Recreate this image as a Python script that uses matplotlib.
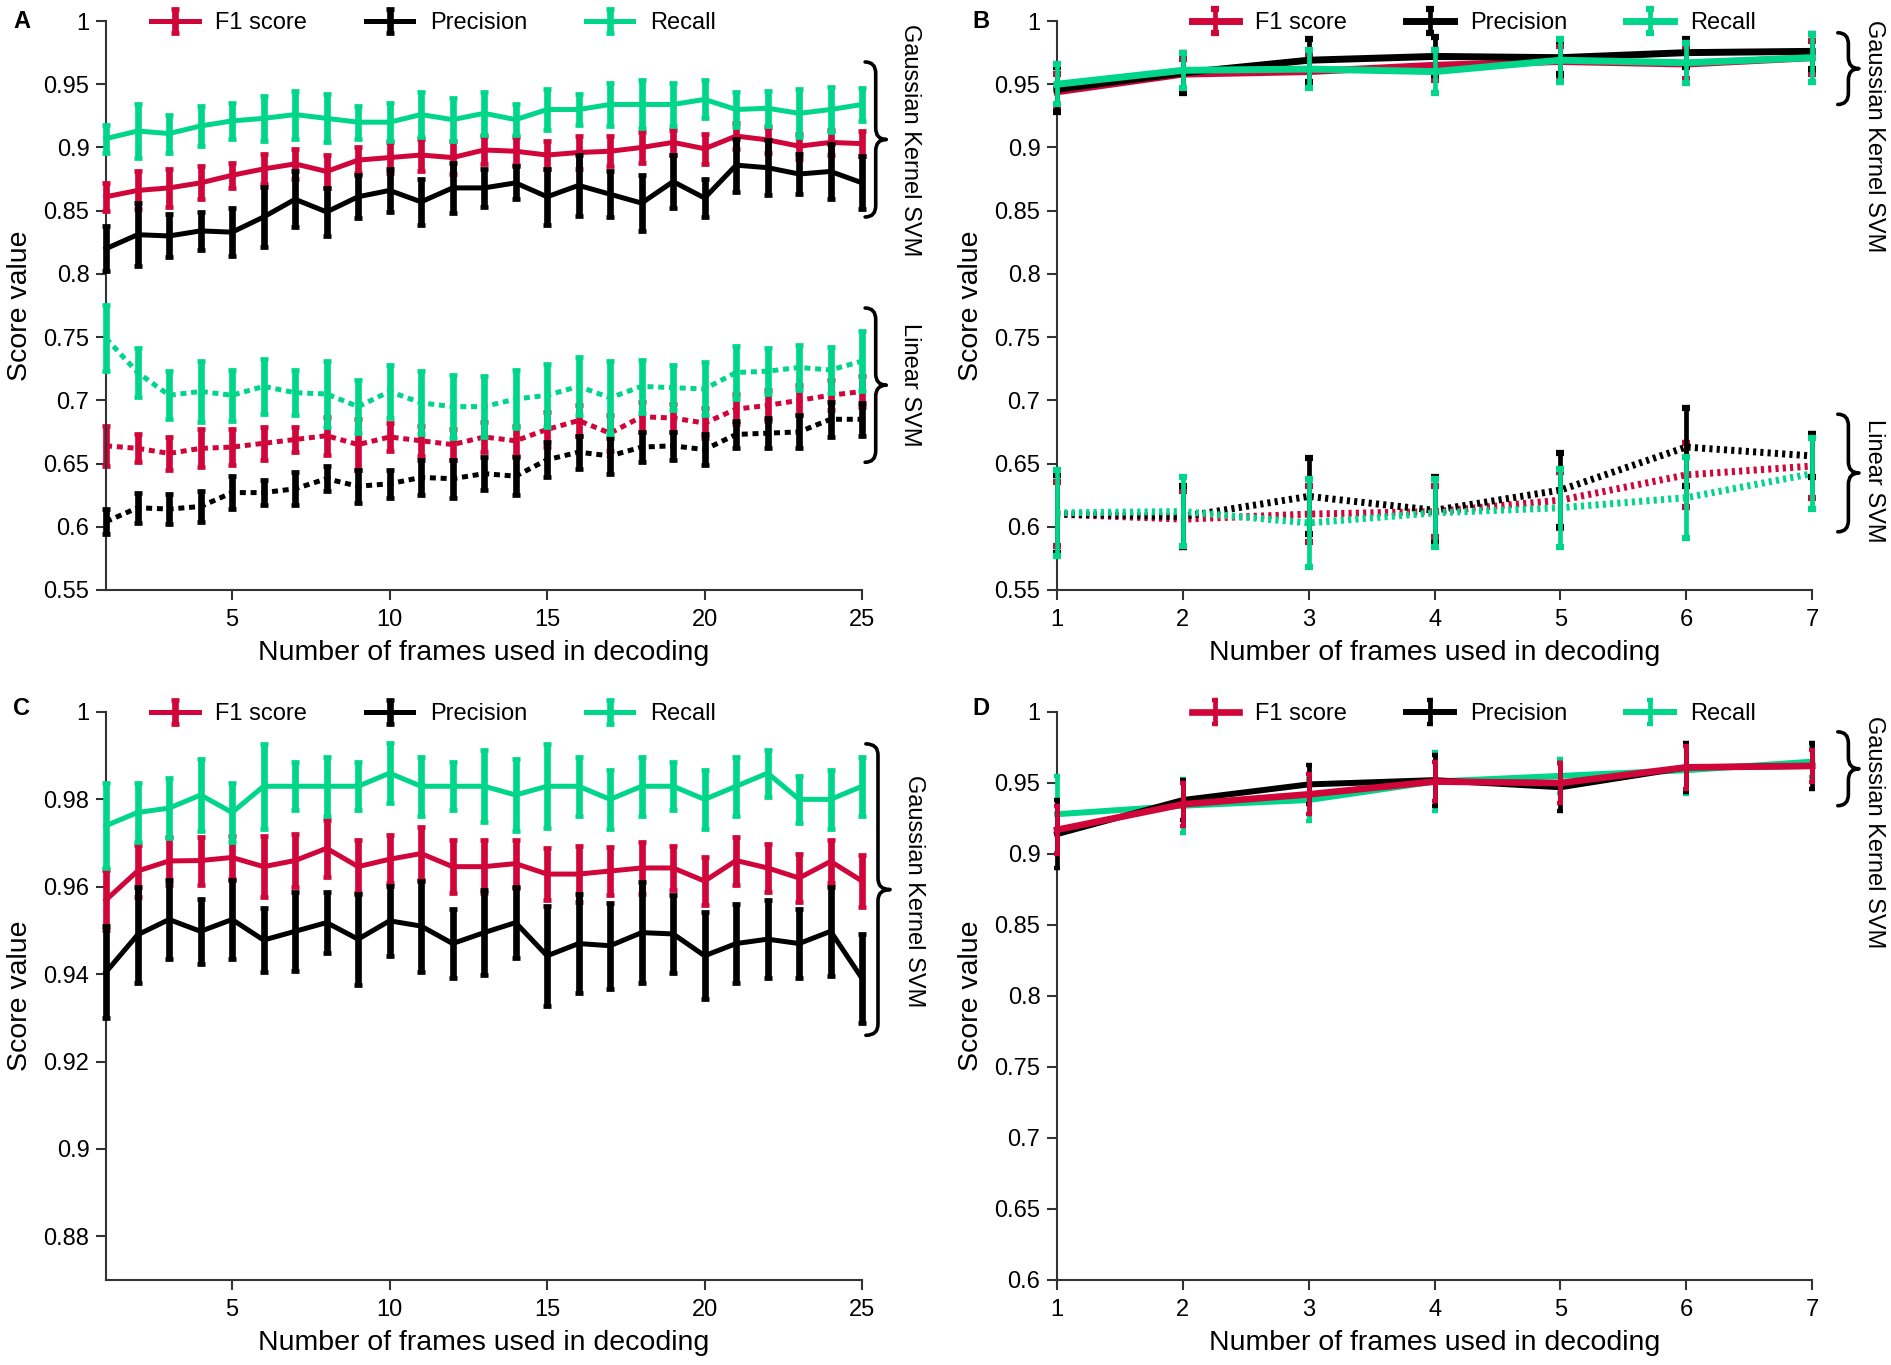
import numpy as np
import matplotlib
matplotlib.use('Agg')
import matplotlib.pyplot as plt
from matplotlib.path import Path
from matplotlib.patches import PathPatch
import matplotlib.transforms as mtransforms
from matplotlib.ticker import FuncFormatter, FixedLocator

plt.rcParams['font.family'] = ['Liberation Sans', 'DejaVu Sans']

RED = '#d0063a'
BLACK = '#000000'
GREEN = '#00d68a'

series_labels = ['F1 score', 'Precision', 'Recall']
frames_25 = list(range(1, 26))
frames_7 = list(range(1, 8))

# ---------------- Panel A ----------------
A_gauss_f1 = [0.861, 0.866, 0.868, 0.872, 0.878, 0.883, 0.887, 0.881, 0.890, 0.892,
              0.894, 0.892, 0.898, 0.897, 0.894, 0.896, 0.897, 0.900, 0.904, 0.899,
              0.909, 0.906, 0.901, 0.904, 0.903]
A_gauss_f1_err = [0.011, 0.015, 0.015, 0.013, 0.010, 0.012, 0.012, 0.013, 0.010, 0.012,
                  0.013, 0.013, 0.011, 0.011, 0.011, 0.013, 0.012, 0.012, 0.010, 0.012,
                  0.010, 0.010, 0.010, 0.010, 0.010]
A_gauss_prec = [0.820, 0.831, 0.830, 0.834, 0.833, 0.845, 0.859, 0.849, 0.861, 0.866,
                0.857, 0.868, 0.868, 0.872, 0.861, 0.870, 0.863, 0.856, 0.873, 0.860,
                0.886, 0.884, 0.879, 0.881, 0.872]
A_gauss_prec_err = [0.018, 0.025, 0.017, 0.015, 0.019, 0.024, 0.022, 0.019, 0.017, 0.017,
                    0.018, 0.020, 0.015, 0.013, 0.022, 0.024, 0.018, 0.022, 0.021, 0.015,
                    0.021, 0.022, 0.016, 0.022, 0.021]
A_gauss_rec = [0.907, 0.913, 0.911, 0.917, 0.921, 0.923, 0.926, 0.923, 0.920, 0.920,
               0.926, 0.922, 0.927, 0.922, 0.930, 0.930, 0.934, 0.934, 0.934, 0.938,
               0.930, 0.931, 0.927, 0.930, 0.934]
A_gauss_rec_err = [0.011, 0.021, 0.015, 0.016, 0.014, 0.018, 0.019, 0.019, 0.013, 0.015,
                   0.018, 0.017, 0.017, 0.012, 0.016, 0.012, 0.017, 0.019, 0.017, 0.015,
                   0.014, 0.014, 0.019, 0.018, 0.013]

A_lin_f1 = [0.664, 0.662, 0.658, 0.662, 0.663, 0.666, 0.669, 0.672, 0.665, 0.671,
            0.668, 0.665, 0.671, 0.668, 0.677, 0.684, 0.674, 0.687, 0.686, 0.682,
            0.693, 0.696, 0.700, 0.704, 0.707]
A_lin_f1_err = [0.016, 0.011, 0.013, 0.015, 0.014, 0.013, 0.010, 0.015, 0.020, 0.011,
                0.012, 0.012, 0.012, 0.012, 0.014, 0.012, 0.014, 0.012, 0.011, 0.012,
                0.012, 0.012, 0.012, 0.012, 0.012]
A_lin_prec = [0.604, 0.615, 0.614, 0.616, 0.627, 0.627, 0.630, 0.638, 0.632, 0.634,
              0.639, 0.638, 0.642, 0.640, 0.653, 0.659, 0.656, 0.663, 0.664, 0.661,
              0.673, 0.674, 0.675, 0.685, 0.685]
A_lin_prec_err = [0.010, 0.012, 0.012, 0.012, 0.013, 0.010, 0.013, 0.010, 0.013, 0.011,
                  0.014, 0.015, 0.013, 0.015, 0.014, 0.013, 0.014, 0.012, 0.011, 0.012,
                  0.011, 0.012, 0.013, 0.014, 0.013]
A_lin_rec = [0.749, 0.722, 0.704, 0.707, 0.704, 0.711, 0.706, 0.705, 0.695, 0.707,
             0.698, 0.695, 0.695, 0.701, 0.704, 0.711, 0.702, 0.711, 0.710, 0.709,
             0.722, 0.723, 0.726, 0.724, 0.731]
A_lin_rec_err = [0.026, 0.019, 0.019, 0.024, 0.020, 0.022, 0.018, 0.026, 0.021, 0.021,
                 0.025, 0.025, 0.024, 0.023, 0.025, 0.023, 0.029, 0.021, 0.018, 0.021,
                 0.021, 0.018, 0.018, 0.018, 0.024]

# ---------------- Panel B ----------------
B_gauss_f1 = [0.944, 0.958, 0.960, 0.965, 0.968, 0.966, 0.971]
B_gauss_f1_err = [0.014, 0.012, 0.012, 0.012, 0.012, 0.012, 0.013]
B_gauss_prec = [0.946, 0.959, 0.969, 0.972, 0.971, 0.975, 0.976]
B_gauss_prec_err = [0.018, 0.016, 0.017, 0.015, 0.013, 0.011, 0.014]
B_gauss_rec = [0.950, 0.961, 0.962, 0.960, 0.969, 0.967, 0.971]
B_gauss_rec_err = [0.016, 0.014, 0.015, 0.017, 0.017, 0.016, 0.019]

B_lin_f1 = [0.610, 0.606, 0.610, 0.612, 0.621, 0.641, 0.648]
B_lin_f1_err = [0.025, 0.022, 0.022, 0.020, 0.022, 0.025, 0.025]
B_lin_prec = [0.610, 0.608, 0.624, 0.613, 0.629, 0.663, 0.656]
B_lin_prec_err = [0.031, 0.024, 0.030, 0.026, 0.029, 0.031, 0.017]
B_lin_rec = [0.611, 0.612, 0.603, 0.611, 0.615, 0.623, 0.642]
B_lin_rec_err = [0.034, 0.027, 0.035, 0.027, 0.031, 0.032, 0.028]

# ---------------- Panel C ----------------
C_gauss_f1 = [0.9570, 0.9636, 0.9659, 0.9660, 0.9667, 0.9646, 0.9660, 0.9688, 0.9646, 0.9663,
              0.9676, 0.9646, 0.9646, 0.9653, 0.9629, 0.9629, 0.9636, 0.9643, 0.9643, 0.9613,
              0.9660, 0.9643, 0.9620, 0.9658, 0.9613]
C_gauss_f1_err = [0.0068, 0.0060, 0.0055, 0.0055, 0.0050, 0.0070, 0.0060, 0.0065, 0.0060, 0.0055,
                  0.0060, 0.0060, 0.0060, 0.0055, 0.0060, 0.0065, 0.0055, 0.0060, 0.0050, 0.0055,
                  0.0055, 0.0055, 0.0055, 0.0050, 0.0060]
C_gauss_prec = [0.9405, 0.9490, 0.9525, 0.9498, 0.9525, 0.9478, 0.9498, 0.9518, 0.9480, 0.9522,
                0.9510, 0.9470, 0.9495, 0.9518, 0.9442, 0.9470, 0.9465, 0.9495, 0.9492, 0.9442,
                0.9470, 0.9480, 0.9470, 0.9498, 0.9390]
C_gauss_prec_err = [0.0105, 0.0110, 0.0090, 0.0075, 0.0090, 0.0073, 0.0090, 0.0069, 0.0104, 0.0080,
                    0.0104, 0.0080, 0.0098, 0.0082, 0.0115, 0.0113, 0.0098, 0.0115, 0.0090, 0.0100,
                    0.0090, 0.0090, 0.0080, 0.0102, 0.0102]
C_gauss_rec = [0.974, 0.977, 0.978, 0.981, 0.977, 0.983, 0.983, 0.983, 0.983, 0.986,
               0.983, 0.983, 0.983, 0.981, 0.983, 0.983, 0.980, 0.983, 0.983, 0.980,
               0.983, 0.986, 0.980, 0.980, 0.983]
C_gauss_rec_err = [0.0097, 0.0068, 0.0068, 0.0082, 0.0068, 0.0097, 0.0055, 0.0068, 0.0055, 0.0068,
                   0.0068, 0.0055, 0.0082, 0.0082, 0.0096, 0.0068, 0.0068, 0.0068, 0.0055, 0.0068,
                   0.0068, 0.0054, 0.0054, 0.0068, 0.0068]

# ---------------- Panel D ----------------
D_gauss_f1 = [0.917, 0.935, 0.942, 0.951, 0.950, 0.961, 0.962]
D_gauss_f1_err = [0.017, 0.015, 0.014, 0.014, 0.014, 0.015, 0.011]
D_gauss_prec = [0.914, 0.938, 0.949, 0.952, 0.947, 0.961, 0.962]
D_gauss_prec_err = [0.024, 0.014, 0.014, 0.018, 0.017, 0.017, 0.016]
D_gauss_rec = [0.928, 0.934, 0.938, 0.951, 0.955, 0.959, 0.965]
D_gauss_rec_err = [0.027, 0.019, 0.015, 0.021, 0.012, 0.017, 0.011]

fig = plt.figure(figsize=(18.91, 13.65), dpi=100)

axA = fig.add_axes([0.0561, 0.5678, 0.3998, 0.4168])
axB = fig.add_axes([0.5590, 0.5678, 0.3993, 0.4168])
axC = fig.add_axes([0.0561, 0.0623, 0.3998, 0.4161])
axD = fig.add_axes([0.5590, 0.0623, 0.3993, 0.4161])

fmt = FuncFormatter(lambda v, p: '%g' % round(v, 4))


def style_axes(ax, xlim, xticks, ylim, yticks):
    ax.set_xlim(*xlim)
    ax.set_ylim(*ylim)
    ax.xaxis.set_major_locator(FixedLocator(xticks))
    ax.yaxis.set_major_locator(FixedLocator(yticks))
    ax.yaxis.set_major_formatter(fmt)
    for s in ['top', 'right']:
        ax.spines[s].set_visible(False)
    for s in ['left', 'bottom']:
        ax.spines[s].set_linewidth(1.5)
        ax.spines[s].set_color('#333333')
    ax.tick_params(direction='out', length=7, width=1.5, color='#333333',
                   labelsize=17, pad=5)
    ax.tick_params(axis='x', pad=7)
    ax.set_xlabel('Number of frames used in decoding', fontsize=20.5)
    ax.set_ylabel('Score value', fontsize=20.5)
    ax.yaxis.set_label_coords(-0.097, 0.5)
    ax.xaxis.set_label_coords(0.5, -0.088)


def eb(ax, x, y, err, color, ls, lw, elw, capsize, capthick, z):
    c = ax.errorbar(x, y, yerr=err, color=color, ls=ls, lw=lw, elinewidth=elw,
                    capsize=capsize, capthick=capthick, zorder=z)
    c.lines[0].set_dash_capstyle('butt')
    c.lines[0].set_clip_on(False)
    for cl in c.lines[1]:
        cl.set_clip_on(False)
    for bl in c.lines[2]:
        bl.set_clip_on(False)
    return c


def brace(ax, x0, w, y0, y1, lw=2.6):
    trans = mtransforms.blended_transform_factory(ax.transAxes, ax.transData)
    ylo, yhi = ax.get_ylim()
    h = 0.02 * (yhi - ylo)
    xm = x0 + w * 0.5
    xt = x0 + w
    mid = 0.5 * (y0 + y1)
    verts = [(x0, y1), (xm, y1), (xm, y1 - h),
             (xm, mid + h),
             (xm, mid), (xt, mid),
             (xm, mid), (xm, mid - h),
             (xm, y0 + h),
             (xm, y0), (x0, y0)]
    codes = [Path.MOVETO, Path.CURVE3, Path.CURVE3,
             Path.LINETO,
             Path.CURVE3, Path.CURVE3,
             Path.CURVE3, Path.CURVE3,
             Path.LINETO,
             Path.CURVE3, Path.CURVE3]
    p = PathPatch(Path(verts, codes), transform=trans, fill=False, lw=lw,
                  edgecolor='black', clip_on=False, capstyle='round', joinstyle='round')
    ax.add_patch(p)


def side_text(ax, x, y, s, va='center'):
    trans = mtransforms.blended_transform_factory(ax.transAxes, ax.transData)
    ax.text(x, y, s, transform=trans, rotation=-90, fontsize=17, ha='center', va=va,
            clip_on=False)


def legend(ax, handles, xc):
    ax.legend(handles, series_labels, loc='center', bbox_to_anchor=(xc, 0.996),
              ncol=3, frameon=False, fontsize=17, handlelength=2.0,
              handletextpad=0.7, columnspacing=2.5, borderaxespad=0, borderpad=0)


DOT_A = (0, (1.2, 0.95))
DOT_B = (0, (0.45, 0.6))

# styles: (line width, error-bar width, cap size, cap thickness)
STY_A = (3.6, 4.8, 2.8, 3.4)
STY_B = (5.0, 3.4, 3.0, 4.5)
STY_D = (4.3, 3.4, 2.0, 3.2)

# ---- A ----
style_axes(axA, (1, 25), [5, 10, 15, 20, 25], (0.55, 1.0), np.arange(0.55, 1.001, 0.05))
lw, elw, cs, ct = STY_A
eb(axA, frames_25, A_lin_f1, A_lin_f1_err, RED, DOT_A, 3.6, elw, cs, ct, 2)
eb(axA, frames_25, A_lin_prec, A_lin_prec_err, BLACK, DOT_A, 3.6, elw, cs, ct, 3)
eb(axA, frames_25, A_lin_rec, A_lin_rec_err, GREEN, DOT_A, 3.6, elw, cs, ct, 4)
hA1 = eb(axA, frames_25, A_gauss_f1, A_gauss_f1_err, RED, '-', lw, elw, cs, ct, 5)
hA2 = eb(axA, frames_25, A_gauss_prec, A_gauss_prec_err, BLACK, '-', lw, elw, cs, ct, 6)
hA3 = eb(axA, frames_25, A_gauss_rec, A_gauss_rec_err, GREEN, '-', lw, elw, cs, ct, 7)
legend(axA, [hA1, hA2, hA3], 0.433)
brace(axA, 1.004, 0.028, 0.845, 0.9676)
brace(axA, 1.004, 0.028, 0.651, 0.773)
side_text(axA, 1.063, 0.906, 'Gaussian Kernel SVM')
side_text(axA, 1.063, 0.712, 'Linear SVM')

# ---- B ----
style_axes(axB, (1, 7), frames_7, (0.55, 1.0), np.arange(0.55, 1.001, 0.05))
lw, elw, cs, ct = STY_B
eb(axB, frames_7, B_lin_f1, B_lin_f1_err, RED, DOT_B, 5.0, elw, cs, ct, 2)
eb(axB, frames_7, B_lin_prec, B_lin_prec_err, BLACK, DOT_B, 5.0, elw, cs, ct, 3)
eb(axB, frames_7, B_lin_rec, B_lin_rec_err, GREEN, DOT_B, 5.0, elw, cs, ct, 4)
hB1 = eb(axB, frames_7, B_gauss_f1, B_gauss_f1_err, RED, '-', lw, elw, cs, ct, 5)
hB2 = eb(axB, frames_7, B_gauss_prec, B_gauss_prec_err, BLACK, '-', lw, elw, cs, ct, 6)
hB3 = eb(axB, frames_7, B_gauss_rec, B_gauss_rec_err, GREEN, '-', lw, elw, cs, ct, 7)
legend(axB, [hB1, hB2, hB3], 0.552)
brace(axB, 1.034, 0.028, 0.934, 0.9907)
brace(axB, 1.034, 0.028, 0.596, 0.689)
side_text(axB, 1.082, 1.001, 'Gaussian Kernel SVM', va='top')
side_text(axB, 1.082, 0.636, 'Linear SVM')

# ---- C ----
style_axes(axC, (1, 25), [5, 10, 15, 20, 25], (0.87, 1.0), np.arange(0.88, 1.001, 0.02))
lw, elw, cs, ct = STY_A
hC1 = eb(axC, frames_25, C_gauss_f1, C_gauss_f1_err, RED, '-', lw, elw, cs, ct, 5)
hC2 = eb(axC, frames_25, C_gauss_prec, C_gauss_prec_err, BLACK, '-', lw, elw, cs, ct, 6)
hC3 = eb(axC, frames_25, C_gauss_rec, C_gauss_rec_err, GREEN, '-', lw, elw, cs, ct, 7)
legend(axC, [hC1, hC2, hC3], 0.433)
brace(axC, 1.005, 0.032, 0.926, 0.9927)
side_text(axC, 1.068, 0.959, 'Gaussian Kernel SVM')

# ---- D ----
style_axes(axD, (1, 7), frames_7, (0.6, 1.0), np.arange(0.6, 1.001, 0.05))
lw, elw, cs, ct = STY_D
hD3 = eb(axD, frames_7, D_gauss_rec, D_gauss_rec_err, GREEN, '-', lw, elw, cs, ct, 5)
hD2 = eb(axD, frames_7, D_gauss_prec, D_gauss_prec_err, BLACK, '-', lw, elw, cs, ct, 6)
hD1 = eb(axD, frames_7, D_gauss_f1, D_gauss_f1_err, RED, '-', 4.8, elw, cs, ct, 7)
legend(axD, [hD1, hD2, hD3], 0.552)
brace(axD, 1.034, 0.028, 0.934, 0.986)
side_text(axD, 1.082, 0.997, 'Gaussian Kernel SVM', va='top')

# panel letters
for lbl, (fx, fy) in zip(['A', 'B', 'C', 'D'],
                         [(0.0116, 0.9839), (0.5188, 0.9839), (0.0116, 0.4810), (0.5188, 0.4810)]):
    fig.text(fx, fy, lbl, fontsize=17, fontweight='bold', ha='center', va='center')

fig.savefig('out.png', dpi=100)
